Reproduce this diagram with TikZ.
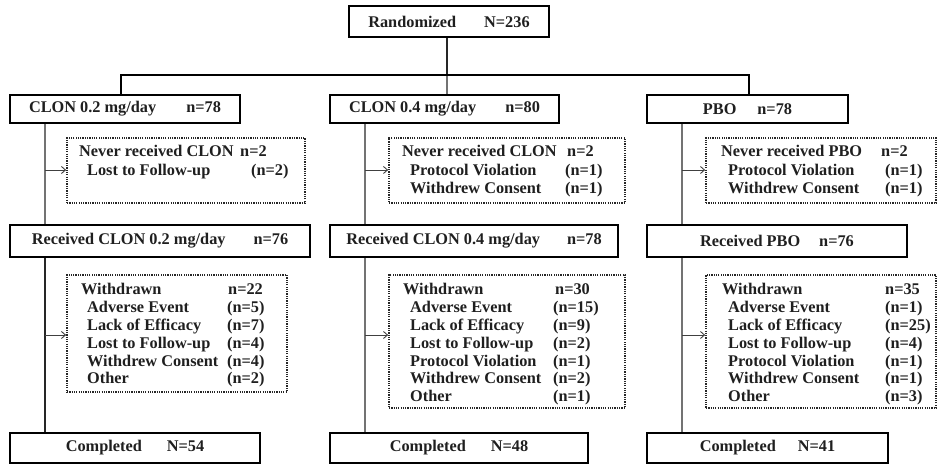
\documentclass[tikz,border=0pt]{standalone}
\usepackage{fontspec}
\setmainfont{Liberation Serif}
\usetikzlibrary{arrows.meta}
\newcommand\boxfont{\fontsize{16.3}{18}\selectfont\bfseries}
% \mkbox{style}{name}{x1}{y1}{x2}{y2}{text}
\newcommand\mkbox[7]{\node[#1, minimum width={(#5-#3)*1pt}, minimum height={(#6-#4)*1pt}] (#2) at ({(#3+#5)/2},{(#4+#6)/2}) {#7};}
% \entry{name}{x}{y}{text}
\newcommand\entry[4]{\node[txt] (#1) at (#2,#3) {#4};}
\begin{document}
\begin{tikzpicture}[x=1pt,y=-1pt,
  solidbox/.style={draw=black, line width=2pt, inner sep=0pt, font=\boxfont, text=black!88},
  dotbox/.style={draw=black!85, line width=1.7pt, dash pattern=on 1.2pt off 1.1pt, inner sep=0pt},
  txt/.style={inner sep=0pt, anchor=base west, font=\boxfont, text=black!88},
  trunk/.style={draw=black!55, line width=1.2pt},
  trunkdark/.style={draw=black!85, line width=1.3pt},
  splitline/.style={draw=black, line width=2pt},
  arr/.style={draw=black!75, line width=0.9pt, -{Straight Barb[length=4pt,width=7pt]}}]
\useasboundingbox (0,0) rectangle (938,465);
% top
\mkbox{solidbox}{rand}{349}{6}{549}{37}{Randomized\hspace{28pt}N=236}
% arms
\mkbox{solidbox}{c1}{10}{95}{240}{123}{CLON 0.2 mg/day\hspace{30pt}n=78}
\mkbox{solidbox}{c2}{330}{95}{559}{123}{CLON 0.4 mg/day\hspace{29pt}n=80}
\mkbox{solidbox}{c3}{647}{95}{848}{123}{PBO\hspace{21pt}n=78}
% never received
\mkbox{dotbox}{u1}{67}{138}{305}{203}{}
\mkbox{dotbox}{u2}{389}{138}{625}{203}{}
\mkbox{dotbox}{u3}{706}{138}{936}{203}{}
% received
\mkbox{solidbox}{r1}{10}{225}{310}{257}{Received CLON 0.2 mg/day\hspace{28pt}n=76}
\mkbox{solidbox}{r2}{330}{225}{618}{257}{Received CLON 0.4 mg/day\hspace{27pt}n=78}
\mkbox{solidbox}{r3}{647}{225}{907}{257}{Received PBO\hspace{19pt}n=76}
% withdrawn
\mkbox{dotbox}{w1}{67}{275}{287}{392}{}
\mkbox{dotbox}{w2}{389}{275}{625}{408}{}
\mkbox{dotbox}{w3}{706}{275}{936}{408}{}
% completed
\mkbox{solidbox}{f1}{10}{433}{260}{463}{Completed\hspace{25pt}N=54}
\mkbox{solidbox}{f2}{330}{433}{588}{463}{Completed\hspace{25pt}N=48}
\mkbox{solidbox}{f3}{647}{433}{888}{463}{Completed\hspace{22pt}N=41}

% texts: never received
\entry{u1a}{79}{157}{Never received CLON}
\entry{u1av}{240}{157}{n=2}
\entry{u1b}{87}{176}{Lost to Follow-up}
\entry{u1bv}{251}{176}{(n=2)}

\entry{u2a}{402}{157}{Never received CLON}
\entry{u2av}{567}{157}{n=2}
\entry{u2b}{410}{176}{Protocol Violation}
\entry{u2bv}{565}{176}{(n=1)}
\entry{u2c}{410}{194}{Withdrew Consent}
\entry{u2cv}{565}{194}{(n=1)}

\entry{u3a}{721}{157}{Never received PBO}
\entry{u3av}{881}{157}{n=2}
\entry{u3b}{728}{176}{Protocol Violation}
\entry{u3bv}{885}{176}{(n=1)}
\entry{u3c}{728}{194}{Withdrew Consent}
\entry{u3cv}{885}{194}{(n=1)}

% texts: withdrawn
\entry{w1a}{81}{295}{Withdrawn}
\entry{w1av}{228}{295}{n=22}
\entry{w1b}{87}{312.8}{Adverse Event}
\entry{w1bv}{227}{312.8}{(n=5)}
\entry{w1c}{87}{330.6}{Lack of Efficacy}
\entry{w1cv}{227}{330.6}{(n=7)}
\entry{w1d}{87}{348.4}{Lost to Follow-up}
\entry{w1dv}{227}{348.4}{(n=4)}
\entry{w1e}{87}{366.2}{Withdrew Consent}
\entry{w1ev}{227}{366.2}{(n=4)}
\entry{w1f}{87}{384}{Other}
\entry{w1fv}{227}{384}{(n=2)}

\entry{w2a}{403}{295}{Withdrawn}
\entry{w2av}{555}{295}{n=30}
\entry{w2b}{410}{312.8}{Adverse Event}
\entry{w2bv}{553}{312.8}{(n=15)}
\entry{w2c}{410}{330.6}{Lack of Efficacy}
\entry{w2cv}{553}{330.6}{(n=9)}
\entry{w2d}{410}{348.4}{Lost to Follow-up}
\entry{w2dv}{553}{348.4}{(n=2)}
\entry{w2e}{410}{366.2}{Protocol Violation}
\entry{w2ev}{553}{366.2}{(n=1)}
\entry{w2f}{410}{384}{Withdrew Consent}
\entry{w2fv}{553}{384}{(n=2)}
\entry{w2g}{410}{401.8}{Other}
\entry{w2gv}{553}{401.8}{(n=1)}

\entry{w3a}{722}{295}{Withdrawn}
\entry{w3av}{885}{295}{n=35}
\entry{w3b}{728}{312.8}{Adverse Event}
\entry{w3bv}{885}{312.8}{(n=1)}
\entry{w3c}{728}{330.6}{Lack of Efficacy}
\entry{w3cv}{885}{330.6}{(n=25)}
\entry{w3d}{728}{348.4}{Lost to Follow-up}
\entry{w3dv}{885}{348.4}{(n=4)}
\entry{w3e}{728}{366.2}{Protocol Violation}
\entry{w3ev}{885}{366.2}{(n=1)}
\entry{w3f}{728}{384}{Withdrew Consent}
\entry{w3fv}{885}{384}{(n=1)}
\entry{w3g}{728}{401.8}{Other}
\entry{w3gv}{885}{401.8}{(n=3)}

% split from randomized
\coordinate (sl) at (121,75);
\coordinate (sr) at (749,75);
\coordinate (sm) at (447,75);
\draw[trunkdark] (rand.south -| sm) -- (sm);
\draw[trunk] (sm) -- (c2.north -| sm);
\draw[splitline] (c1.north -| sl) -- (sl) -- (sr) -- (c3.north -| sr);

% column trunks
\coordinate (k1) at (45,170);
\coordinate (k2) at (365,170);
\coordinate (k3) at (682,170);
\coordinate (m1) at (45,335);
\coordinate (m2) at (365,335);
\coordinate (m3) at (682,335);
\draw[trunk] (c1.south -| k1) -- (r1.north -| k1);
\draw[trunk] (c2.south -| k2) -- (r2.north -| k2);
\draw[trunk] (c3.south -| k3) -- (r3.north -| k3);
\draw[trunkdark] (r1.south -| m1) -- (f1.north -| m1);
\draw[trunk] (r2.south -| m2) -- (f2.north -| m2);
\draw[trunk] (r3.south -| m3) -- (f3.north -| m3);
\draw[arr] (k1) -- (k1 -| u1.west);
\draw[arr] (k2) -- (k2 -| u2.west);
\draw[arr] (k3) -- (k3 -| u3.west);
\draw[arr] (m1) -- (m1 -| w1.west);
\draw[arr] (m2) -- (m2 -| w2.west);
\draw[arr] (m3) -- (m3 -| w3.west);
\end{tikzpicture}
\end{document}
